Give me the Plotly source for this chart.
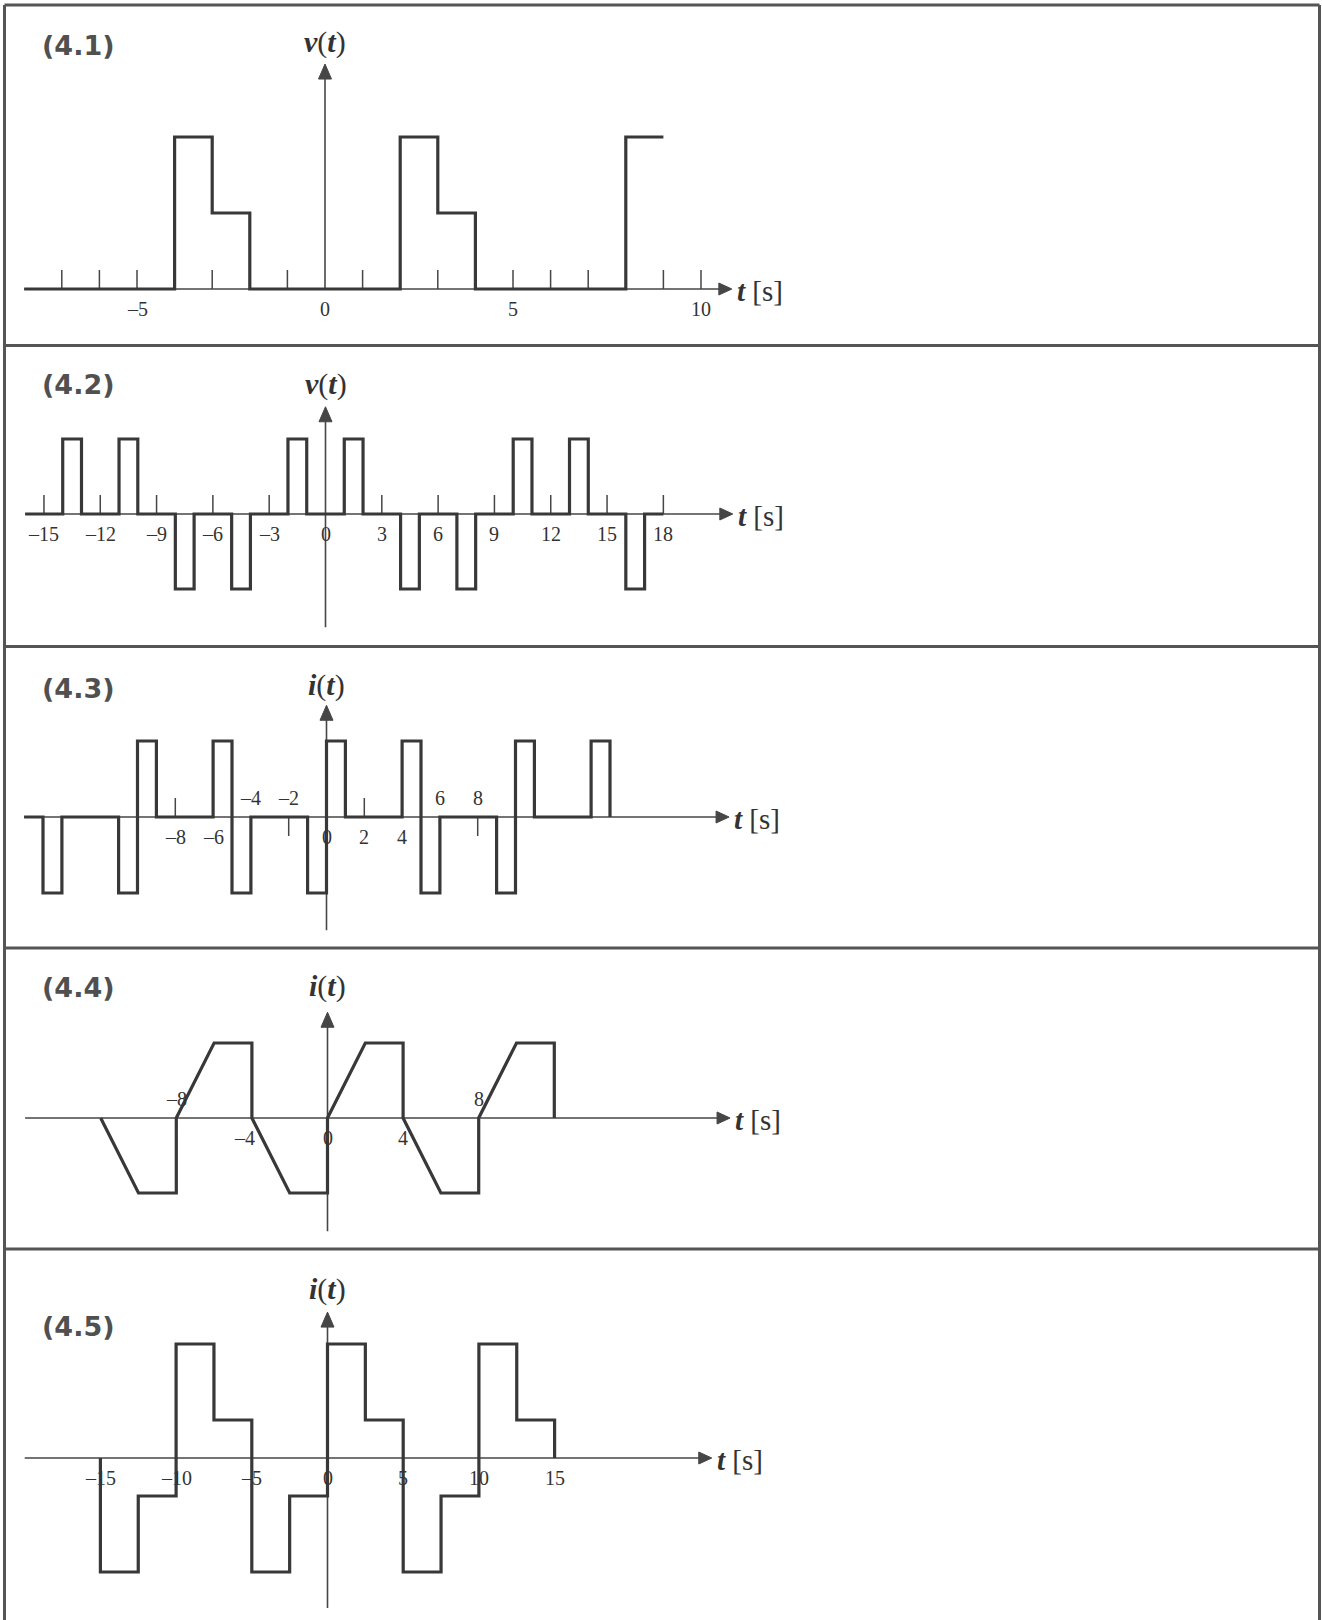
import plotly.graph_objects as go

W, H = 1322, 1620

# ---------------- data ----------------
# (4.1) v(t): step breakpoints (value holds until next breakpoint)
p1_t = [-8, -4, -3, -2, 2, 3, 4, 8, 9]
p1_v = [0, 2, 1, 0, 2, 1, 0, 2, 2]
p1_ticks_up = [-7, -6, -5, -4, -3, -2, -1, 1, 2, 3, 4, 5, 6, 7, 8, 9, 10]
p1_lab_below_t = [-5, 0, 5, 10]
p1_lab_below = ["\u20135", "0", "5", "10"]

# (4.2) v(t)
p2_t = [-16, -14, -13, -11, -10, -8, -7, -5, -4, -2, -1, 1, 2, 4, 5, 7, 8, 10, 11, 13, 14, 16, 17, 18]
p2_v = [0, 1, 0, 1, 0, -1, 0, -1, 0, 1, 0, 1, 0, -1, 0, -1, 0, 1, 0, 1, 0, -1, 0, 0]
p2_ticks_up = [-15, -12, -9, -6, -3, 3, 6, 9, 12, 15, 18]
p2_lab_below_t = [-15, -12, -9, -6, -3, 0, 3, 6, 9, 12, 15, 18]
p2_lab_below = ["\u201315", "\u201312", "\u20139", "\u20136", "\u20133", "0", "3", "6", "9", "12", "15", "18"]

# (4.3) i(t)
p3_t = [-16, -15, -14, -11, -10, -9, -6, -5, -4, -1, 0, 1, 4, 5, 6, 9, 10, 11, 14, 15]
p3_v = [0, -1, 0, -1, 1, 0, 1, -1, 0, -1, 1, 0, 1, -1, 0, -1, 1, 0, 1, 0]
p3_ticks_up = [-8, 2]
p3_ticks_down = [-2, 8]
p3_lab_below_t = [-8, -6, 0, 2, 4]
p3_lab_below = ["\u20138", "\u20136", "0", "2", "4"]
p3_lab_above_t = [-4, -2, 6, 8]
p3_lab_above = ["\u20134", "\u20132", "6", "8"]

# (4.4) i(t): piecewise linear
p4_t = [-12, -10, -8, -8, -6, -4, -4, -2, 0, 0, 2, 4, 4, 6, 8, 8, 10, 12, 12]
p4_v = [0, -1, -1, 0, 1, 1, 0, -1, -1, 0, 1, 1, 0, -1, -1, 0, 1, 1, 0]
p4_lab_below_t = [-4, 0, 4]
p4_lab_below = ["\u20134", "0", "4"]
p4_lab_above_t = [-8, 8]
p4_lab_above = ["\u20138", "8"]

# (4.5) i(t): steps
p5_t = [-15, -15, -12.5, -10, -7.5, -5, -2.5, 0, 2.5, 5, 7.5, 10, 12.5, 15]
p5_v = [0, -3, -1, 3, 1, -3, -1, 3, 1, -3, -1, 3, 1, 0]
p5_lab_below_t = [-15, -10, -5, 0, 5, 10, 15]
p5_lab_below = ["\u201315", "\u201310", "\u20135", "0", "5", "10", "15"]

# axis extents [start, end] in data units
p1_xaxis, p1_yaxis = [-8, 10.82], [0, 2.96]
p2_xaxis, p2_yaxis = [-16, 21.7], [-1.51, 1.43]
p3_xaxis, p3_yaxis = [-16, 21.3], [-1.49, 1.47]
p4_xaxis, p4_yaxis = [-16, 21.3], [-1.51, 1.41]
p5_xaxis, p5_yaxis = [-20, 25.38], [-3.95, 3.84]

titles = ["(4.1)", "(4.2)", "(4.3)", "(4.4)", "(4.5)"]
ylabels = ["v", "v", "i", "i", "i"]

# ---------------- layout geometry (pixels) ----------------
panels = [
    dict(t=p1_t, v=p1_v, shape="hv", x0=325, ux=37.6, y0=289, uy=76, top=5, bot=345.5,
         xa=p1_xaxis, ya=p1_yaxis, tup=p1_ticks_up, tdown=[],
         below=(p1_lab_below_t, p1_lab_below, None), above=([], [], None),
         title_y=45, ylab_y=42),
    dict(t=p2_t, v=p2_v, shape="hv", x0=325.5, ux=18.77, y0=514, uy=75, top=345.5, bot=646.5,
         xa=p2_xaxis, ya=p2_yaxis, tup=p2_ticks_up, tdown=[],
         below=(p2_lab_below_t, p2_lab_below, None), above=([], [], None),
         title_y=385, ylab_y=384),
    dict(t=p3_t, v=p3_v, shape="hv", x0=326.5, ux=18.9, y0=817, uy=76, top=646.5, bot=948,
         xa=p3_xaxis, ya=p3_yaxis, tup=p3_ticks_up, tdown=p3_ticks_down,
         below=(p3_lab_below_t, p3_lab_below, None), above=(p3_lab_above_t, p3_lab_above, None),
         title_y=688, ylab_y=685),
    dict(t=p4_t, v=p4_v, shape="linear", x0=327.5, ux=18.9, y0=1118, uy=75, top=948, bot=1249,
         xa=p4_xaxis, ya=p4_yaxis, tup=[], tdown=[],
         below=(p4_lab_below_t, p4_lab_below, [-7, 0, 0]), above=(p4_lab_above_t, p4_lab_above, None),
         title_y=988, ylab_y=986),
    dict(t=p5_t, v=p5_v, shape="hv", x0=327.5, ux=15.14, y0=1458, uy=38, top=1249, bot=H,
         xa=p5_xaxis, ya=p5_yaxis, tup=[], tdown=[],
         below=(p5_lab_below_t, p5_lab_below, None), above=([], [], None),
         title_y=1326, ylab_y=1289),
]

SIG = "#383838"
AX = "#464646"
TXT = "#333333"
BORDER = "#555555"
SERIF = "Liberation Serif, Times New Roman, serif"

fig = go.Figure()
annotations = []
layout_axes = {}

for k, p in enumerate(panels, start=1):
    xs = "" if k == 1 else str(k)
    xref, yref = "x" + xs, "y" + xs
    ux, uy = p["ux"], p["uy"]
    layout_axes["xaxis" + xs] = dict(domain=[0, 1], range=[-p["x0"] / ux, (W - p["x0"]) / ux],
                                     visible=False, fixedrange=True)
    layout_axes["yaxis" + xs] = dict(domain=[1 - p["bot"] / H, 1 - p["top"] / H],
                                     range=[(p["y0"] - p["bot"]) / uy, (p["y0"] - p["top"]) / uy],
                                     visible=False, fixedrange=True)

    # axes lines
    xa, ya = p["xa"], p["ya"]
    fig.add_trace(go.Scatter(x=[xa[0], xa[1] - 6 / ux], y=[0, 0], mode="lines",
                             line=dict(color=AX, width=1.6), xaxis=xref, yaxis=yref,
                             hoverinfo="skip", showlegend=False))
    fig.add_trace(go.Scatter(x=[0, 0], y=[ya[0], ya[1] - 6 / uy], mode="lines",
                             line=dict(color=AX, width=1.6), xaxis=xref, yaxis=yref,
                             hoverinfo="skip", showlegend=False))
    # arrowheads
    L, Hh = 13, 6
    fig.add_trace(go.Scatter(x=[xa[1], xa[1] - L / ux, xa[1] - L / ux, xa[1]],
                             y=[0, Hh / uy, -Hh / uy, 0], mode="lines", fill="toself",
                             fillcolor=AX, line=dict(color=AX, width=1),
                             xaxis=xref, yaxis=yref, hoverinfo="skip", showlegend=False))
    L2, H2 = 15, 6.5
    fig.add_trace(go.Scatter(x=[0, H2 / ux, -H2 / ux, 0],
                             y=[ya[1], ya[1] - L2 / uy, ya[1] - L2 / uy, ya[1]], mode="lines",
                             fill="toself", fillcolor=AX, line=dict(color=AX, width=1),
                             xaxis=xref, yaxis=yref, hoverinfo="skip", showlegend=False))

    # tick marks
    tk = 19
    tx, ty = [], []
    for t in p["tup"]:
        tx += [t, t, None]
        ty += [0, tk / uy, None]
    for t in p["tdown"]:
        tx += [t, t, None]
        ty += [0, -tk / uy, None]
    if tx:
        fig.add_trace(go.Scatter(x=tx, y=ty, mode="lines", line=dict(color=AX, width=1.5),
                                 xaxis=xref, yaxis=yref, hoverinfo="skip", showlegend=False))

    # signal
    fig.add_trace(go.Scatter(x=p["t"], y=p["v"], mode="lines",
                             line=dict(color=SIG, width=3.2, shape=p["shape"]),
                             xaxis=xref, yaxis=yref, hoverinfo="skip", showlegend=False))

    # tick labels
    for (ts, labs, shifts), ysh in ((p["below"], -20), (p["above"], 19)):
        for i, (t, lab) in enumerate(zip(ts, labs)):
            annotations.append(dict(x=t, y=0, xref=xref, yref=yref, text=lab, showarrow=False,
                                    xshift=(shifts[i] if shifts else 0), yshift=ysh,
                                    font=dict(family=SERIF, size=20, color=TXT)))

    # t [s]
    annotations.append(dict(x=xa[1], y=0, xref=xref, yref=yref, xanchor="left", yanchor="middle",
                            xshift=3, yshift=-2, text="<b><i>t</i></b> [s]", showarrow=False,
                            font=dict(family=SERIF, size=29, color=TXT)))
    # y label
    annotations.append(dict(x=0, y=1 - p["ylab_y"] / H, xref=xref, yref="paper",
                            xanchor="center", yanchor="middle",
                            text="<b><i>%s</i></b>(<b><i>t</i></b>)" % ylabels[k - 1],
                            showarrow=False,
                            font=dict(family=SERIF, size=30, color=TXT)))
    # panel title
    annotations.append(dict(x=40 / W, y=1 - p["title_y"] / H, xref="paper", yref="paper",
                            xanchor="left", yanchor="middle", text="<b>%s</b>" % titles[k - 1],
                            showarrow=False,
                            font=dict(family="DejaVu Sans", size=27, color="#505050")))

# borders
shapes = []
def hline(ypx):
    shapes.append(dict(type="line", xref="paper", yref="paper", x0=4.5 / W, x1=1319.5 / W,
                       y0=1 - ypx / H, y1=1 - ypx / H, line=dict(color=BORDER, width=3)))
def vline(xpx):
    shapes.append(dict(type="line", xref="paper", yref="paper", x0=xpx / W, x1=xpx / W,
                       y0=1 - 5 / H, y1=0, line=dict(color=BORDER, width=3)))
for ypx in [5, 345.5, 646.5, 948, 1249]:
    hline(ypx)
vline(4.5)
vline(1319.5)

fig.update_layout(width=W, height=H, margin=dict(l=0, r=0, t=0, b=0),
                  paper_bgcolor="white", plot_bgcolor="rgba(0,0,0,0)",
                  showlegend=False, annotations=annotations, shapes=shapes, **layout_axes)

fig.write_html("out.html", config={"displayModeBar": False},
               post_script="document.body.style.margin='0';document.body.style.overflow='hidden';")
